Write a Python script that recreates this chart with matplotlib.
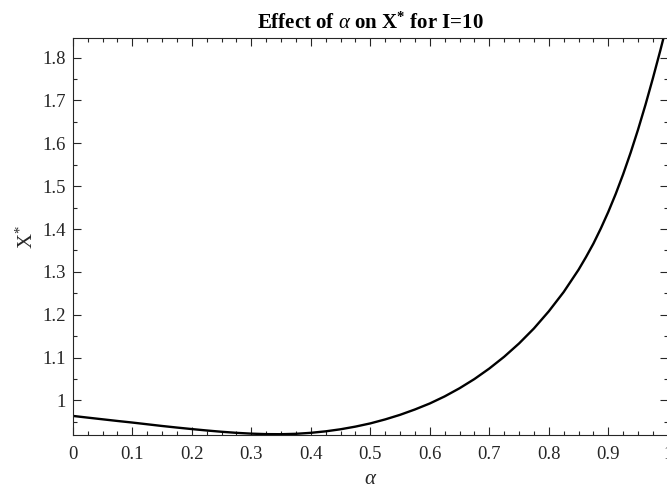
import matplotlib
matplotlib.use("Agg")
import matplotlib.pyplot as plt
from matplotlib.ticker import MultipleLocator, FuncFormatter

# Equilibrium X* as a function of alpha (I = 10)
alpha = [0.000, 0.025, 0.050, 0.075, 0.100, 0.125, 0.150, 0.175, 0.200, 0.225,
         0.250, 0.275, 0.300, 0.325, 0.350, 0.375, 0.400, 0.425, 0.450, 0.475,
         0.500, 0.525, 0.550, 0.575, 0.600, 0.625, 0.650, 0.675, 0.700, 0.725,
         0.750, 0.775, 0.800, 0.825, 0.850, 0.8625, 0.875, 0.8875, 0.900, 0.9125,
         0.925, 0.9375, 0.950, 0.9625, 0.975, 0.9875, 1.000]
x_star = [0.9640, 0.9600, 0.9561, 0.9522, 0.9485, 0.9445, 0.9405, 0.9368, 0.9333, 0.9300,
          0.9270, 0.9245, 0.9226, 0.9215, 0.9213, 0.9222, 0.9245, 0.9280, 0.9328, 0.9390,
          0.9465, 0.9558, 0.9665, 0.9790, 0.9930, 1.0095, 1.0285, 1.0500, 1.0745, 1.1020,
          1.1330, 1.1680, 1.2080, 1.2530, 1.3050, 1.3345, 1.3660, 1.4015, 1.4400, 1.4820,
          1.5280, 1.5780, 1.6320, 1.6900, 1.7520, 1.8170, 1.8850]

x_ticks = [0, 0.1, 0.2, 0.3, 0.4, 0.5, 0.6, 0.7, 0.8, 0.9, 1]
y_ticks = [1, 1.1, 1.2, 1.3, 1.4, 1.5, 1.6, 1.7, 1.8]

plt.rcParams["font.family"] = ["Liberation Serif", "DejaVu Serif"]
plt.rcParams["mathtext.fontset"] = "custom"
plt.rcParams["mathtext.rm"] = "Liberation Serif"
plt.rcParams["mathtext.it"] = "Liberation Serif:italic"
plt.rcParams["mathtext.bf"] = "Liberation Serif:bold"

axis_color = "#262626"

fig = plt.figure(figsize=(6.67, 4.92), dpi=100)
ax = fig.add_axes([0.1091, 0.1159, 0.8921, 0.8063])

ax.plot(alpha, x_star, color="black", linewidth=1.7)

ax.set_xlim(0, 1)
ax.set_ylim(0.9195, 1.845)

ax.set_xticks(x_ticks)
ax.set_yticks(y_ticks)
ax.xaxis.set_minor_locator(MultipleLocator(0.025))
ax.yaxis.set_minor_locator(MultipleLocator(0.05))

fmt = FuncFormatter(lambda v, p: ("%g" % round(v, 3)))
ax.xaxis.set_major_formatter(fmt)
ax.yaxis.set_major_formatter(fmt)

ax.tick_params(which="both", direction="in", top=True, right=True,
               colors=axis_color, labelsize=13.5, width=0.8)
ax.tick_params(which="major", length=6)
ax.tick_params(which="minor", length=3)
ax.tick_params(axis="x", pad=8)
ax.tick_params(axis="y", pad=5)

for s in ax.spines.values():
    s.set_color(axis_color)
    s.set_linewidth(0.8)

ax.set_title(r"Effect of $\alpha$ on X$^{\mathbf{*}}$ for I=10",
             fontsize=15, fontweight="bold", pad=7)
ax.set_xlabel(r"$\alpha$", fontsize=15, color=axis_color, labelpad=5)
ax.set_ylabel(r"X$^{*}$", fontsize=15, color=axis_color, labelpad=3)

fig.savefig("out.png", dpi=100)
